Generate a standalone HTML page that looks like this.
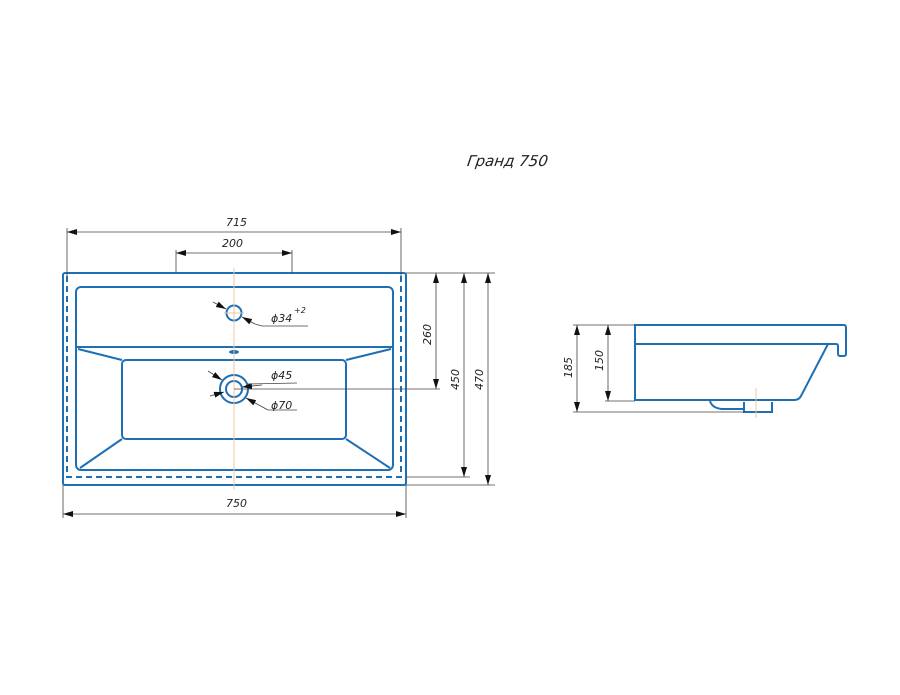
<!DOCTYPE html>
<html><head><meta charset="utf-8"><style>
html,body{margin:0;padding:0;background:#fff;}
svg{display:block;}
text{font-family:"DejaVu Sans","Liberation Sans",sans-serif;font-style:italic;fill:#222;}
</style></head><body>
<svg width="900" height="695" viewBox="0 0 900 695" xmlns="http://www.w3.org/2000/svg">
<defs>
<marker id="a" viewBox="0 0 10 6" refX="10" refY="3" markerWidth="10" markerHeight="6" orient="auto-start-reverse" markerUnits="userSpaceOnUse"><path d="M0,0 L10,3 L0,6 z" fill="#111"/></marker>
</defs>
<text x="468" y="166" font-size="15" transform="skewX(-8) translate(22,0)">Гранд 750</text>

<!-- top view -->
<g fill="none" stroke="#1f6fb5" stroke-width="2">
<rect x="63" y="273" width="343" height="212" rx="2"/>
<rect x="76" y="287" width="317" height="183" rx="5"/>
<line x1="76" y1="347" x2="393" y2="347"/>
<rect x="122" y="360" width="224" height="79" rx="4"/>
<line x1="78" y1="349" x2="122" y2="360"/>
<line x1="391" y1="349" x2="346" y2="360"/>
<line x1="80" y1="468" x2="122" y2="439"/>
<line x1="390" y1="468" x2="346" y2="439"/>
<path d="M67 276 V477 H401 V276" stroke-dasharray="6 4"/>
<circle cx="234" cy="313" r="7.5"/>
<circle cx="234" cy="389" r="8"/>
<circle cx="234" cy="389" r="14"/>
</g>
<ellipse cx="234" cy="352" rx="5" ry="2" fill="#1f6fb5"/>
<g stroke="#e8c9a0" stroke-width="1">
<line x1="234" y1="268" x2="234" y2="490"/>
<line x1="224" y1="313" x2="244" y2="313"/>
</g>
<g stroke="#444" stroke-width="0.8" fill="none">
<line x1="67" y1="228" x2="67" y2="276"/>
<line x1="401" y1="228" x2="401" y2="276"/>
<line x1="67" y1="232" x2="401" y2="232" marker-start="url(#a)" marker-end="url(#a)"/>
<line x1="176" y1="250" x2="176" y2="273"/>
<line x1="292" y1="250" x2="292" y2="273"/>
<line x1="176" y1="253" x2="292" y2="253" marker-start="url(#a)" marker-end="url(#a)"/>
<line x1="63" y1="485" x2="63" y2="518"/>
<line x1="406" y1="485" x2="406" y2="518"/>
<line x1="63" y1="514" x2="406" y2="514" marker-start="url(#a)" marker-end="url(#a)"/>
<line x1="406" y1="273" x2="495" y2="273"/>
<line x1="234" y1="389" x2="440" y2="389"/>
<line x1="406" y1="477" x2="470" y2="477"/>
<line x1="406" y1="485" x2="495" y2="485"/>
<line x1="436" y1="273" x2="436" y2="389" marker-start="url(#a)" marker-end="url(#a)"/>
<line x1="464" y1="273" x2="464" y2="477" marker-start="url(#a)" marker-end="url(#a)"/>
<line x1="488" y1="273" x2="488" y2="485" marker-start="url(#a)" marker-end="url(#a)"/>
<line x1="213" y1="302" x2="226" y2="309" marker-end="url(#a)"/>
<line x1="255" y1="324" x2="242" y2="317" marker-end="url(#a)"/>
<polyline points="255,324 262,326 308,326"/>
<line x1="208" y1="371" x2="222" y2="380" marker-end="url(#a)"/>
<line x1="268" y1="410" x2="246" y2="398" marker-end="url(#a)"/>
<polyline points="268,410 297,410"/>
<line x1="210" y1="396" x2="224" y2="392" marker-end="url(#a)"/>
<line x1="262" y1="385" x2="242" y2="387" marker-end="url(#a)"/>
<polyline points="248,384 297,383"/>
</g>
<g font-size="11">
<text x="226" y="226">715</text>
<text x="222" y="247">200</text>
<text x="226" y="507">750</text>
<text x="271" y="322">ϕ34</text>
<text x="294" y="313" font-size="8">+2</text>
<text x="271" y="379">ϕ45</text>
<text x="271" y="409">ϕ70</text>
<text transform="translate(431,345) rotate(-90)">260</text>
<text transform="translate(459,390) rotate(-90)">450</text>
<text transform="translate(483,390) rotate(-90)">470</text>
<text transform="translate(572,378) rotate(-90)">185</text>
<text transform="translate(603,371) rotate(-90)">150</text>
</g>

<!-- side view -->
<g fill="none" stroke="#1f6fb5" stroke-width="2">
<path d="M635 401 V325 H844 Q846 325 846 328 V354 Q846 356 843 356 H840 Q838 356 838 353 V346 Q838 344 836 344 H635"/>
<path d="M828 344 L801 396 Q799 400 794 400 H635"/>
<path d="M710 401 Q712 408 722 409 H744 V412 H772 V402"/>
<line x1="744" y1="402" x2="744" y2="412"/>
</g>
<line x1="756" y1="388" x2="756" y2="418" stroke="#e8c9a0"/>
<g stroke="#444" stroke-width="0.8">
<line x1="573" y1="325" x2="635" y2="325"/>
<line x1="605" y1="401" x2="635" y2="401"/>
<line x1="573" y1="412" x2="745" y2="412"/>
<line x1="577" y1="325" x2="577" y2="412" marker-start="url(#a)" marker-end="url(#a)"/>
<line x1="608" y1="325" x2="608" y2="401" marker-start="url(#a)" marker-end="url(#a)"/>
</g>
</svg>
</body></html>
